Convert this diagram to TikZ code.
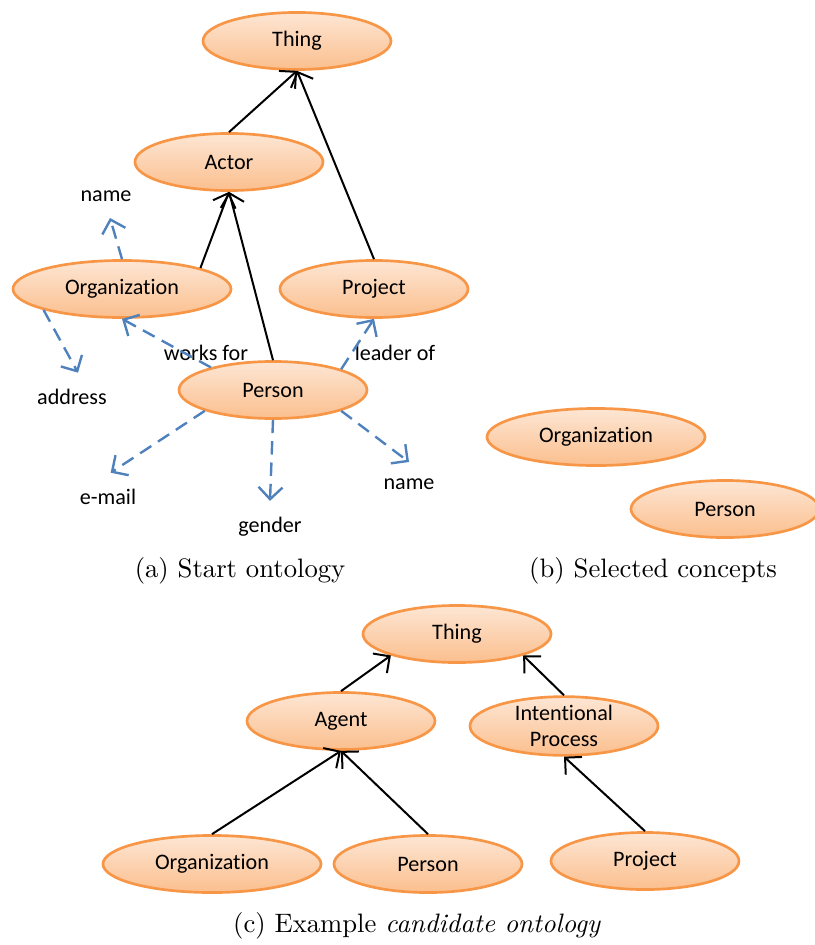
\documentclass[tikz,border=0pt]{standalone}
\usepackage{fontspec}
\usepackage{tikz}
\usetikzlibrary{positioning, shapes.geometric, arrows.meta}
\usepackage{xcolor}
\newfontfamily\calibri[Ligatures={NoCommon}]{Carlito}
\definecolor{conceptline}{HTML}{F79646}
\definecolor{concepttop}{HTML}{FDE6D4}
\definecolor{conceptbottom}{HTML}{FBBF8E}
\definecolor{propblue}{HTML}{4F81BD}

\begin{document}
\begin{tikzpicture}[x=0.375pt, y=-0.375pt,
    concept/.style={ellipse, draw=conceptline, line width=1pt, top color=concepttop, bottom color=conceptbottom,
        minimum width=70.5pt, minimum height=21.4pt, inner sep=0pt, font=\calibri\fontsize{8.3}{9.75}\selectfont, align=center},
    wide/.style={minimum width=81.75pt},
    attr/.style={inner xsep=1pt, inner ysep=6pt, font=\calibri\fontsize{8.3}{9.75}\selectfont},
    isa/.style={-{Straight Barb[length=4.5pt,width=9pt]}, line width=0.75pt},
    prop/.style={-{Straight Barb[length=4.5pt,width=9pt]}, line width=0.9pt, draw=propblue, dash pattern=on 5pt off 3pt}]
        \useasboundingbox (0,0) rectangle (815,945);

        % (a) concepts
        \node[concept]       (thing)   at (297,41)  {Thing};
        \node[concept]       (actor)   at (229,162) {Actor};
        \node[concept, wide] (org)     at (122,289) {Organization};
        \node[concept]       (project) at (374,289) {Project};
        \node[concept]       (person)  at (273,390) {Person};

        % (a) attributes and relations
        \node[attr] (orgname)   at (106,196) {name};
        \node[attr] (address)   at (72,397)  {address};
        \node[attr] (email)     at (108,497) {e-mail};
        \node[attr] (gender)    at (270,527) {gender};
        \node[attr] (pername)   at (409,484) {name};
        \node[attr, inner sep=0pt] (worksfor) at (206,353) {works for};
        \node[attr, inner sep=0pt] (leaderof) at (395,353) {leader of};

        % (a) subclass edges
        \draw[isa] (actor.north) -- (thing.south);
        \draw[isa] (project.north) -- (thing.south);
        \draw[isa] (org.15) -- (actor.south);
        \draw[isa] (person.north) -- (actor.south);

        % (a) properties
        \draw[prop] (org.north) -- ([xshift=1.5pt]orgname.south);
        \draw[prop] (org.195) -- ([xshift=2.25pt]address.north);
        \draw[prop] (person.160) -- (org.south);
        \draw[prop] (person.17) -- (project.south);
        \draw[prop] (person.197) -- ([xshift=1pt]email.north);
        \draw[prop] (person.south) -- (gender.north);
        \draw[prop] (person.-17) -- (pername.north);

        % (b) selected concepts
        \node[concept, wide] (selorg)    at (596,437) {Organization};
        \node[concept]       (selperson) at (725,509) {Person};

        % (c) candidate ontology
        \node[concept]       (cthing)   at (457,634) {Thing};
        \node[concept]       (agent)    at (341,721) {Agent};
        \node[concept]       (intproc)  at (564,726) {Intentional\\Process};
        \node[concept, wide] (corg)     at (212,864) {Organization};
        \node[concept]       (cperson)  at (428,864) {Person};
        \node[concept]       (cproject) at (645,861) {Project};

        \draw[isa] (agent.north) -- (cthing.198);
        \draw[isa] (intproc.north) -- (cthing.-18);
        \draw[isa] (corg.north) -- (agent.south);
        \draw[isa] (cperson.north) -- (agent.south);
        \draw[isa] (cproject.north) -- (intproc.south);

        % Captions
        \node (capa) at (240,571) {(a) Start ontology};
        \node (capb) at (653,571) {(b) Selected concepts};
        \node (capc) at (417,926) {(c) Example \emph{candidate ontology}};
    \end{tikzpicture}
\end{document}
